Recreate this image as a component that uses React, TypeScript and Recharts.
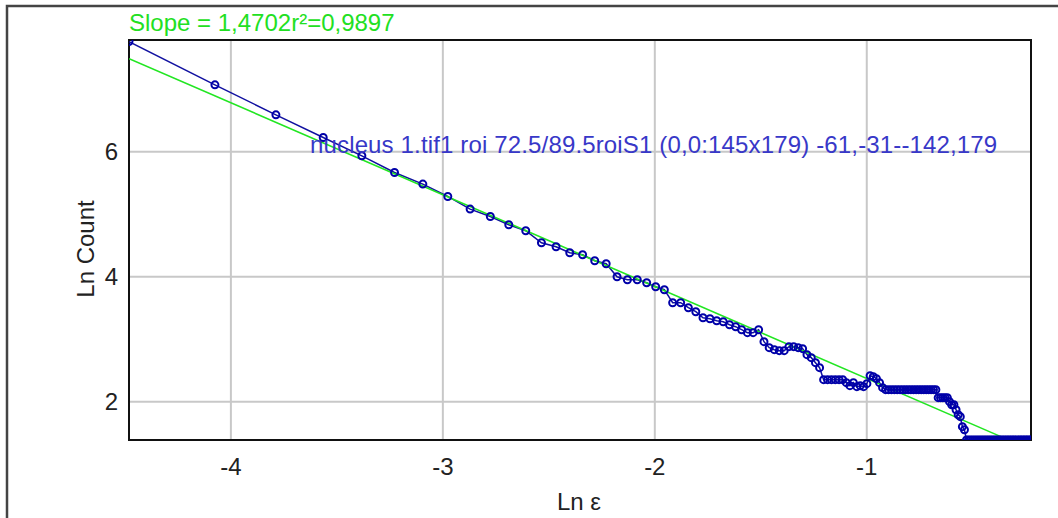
import { ComposedChart, Line, XAxis, YAxis, CartesianGrid, ReferenceArea } from 'recharts'

// box sizes (pixels) used by the box counting
const boxSizes = [
  2, 3, 4, 5, 6, 7, 8, 9, 10, 11, 12, 13, 14, 15, 16, 17, 18, 19, 20, 21,
  22, 23, 24, 25, 26, 27, 28, 29, 30, 31, 32, 33, 34, 35, 36, 37, 38, 39, 40, 41,
  42, 43, 44, 45, 46, 47, 48, 49, 50, 51, 52, 53, 54, 55, 56, 57, 58, 59, 60, 61,
  62, 63, 64, 65, 66, 67, 68, 69, 70, 71, 72, 73, 74, 75, 76, 77, 78, 79, 80, 81,
  82, 83, 84, 85, 86, 87, 88, 89, 90, 91, 92, 93, 94, 95, 96, 97, 98, 99, 100, 101,
  102, 103, 104, 105, 106, 107, 108, 109, 110, 111, 112, 113, 114, 115, 116, 117, 118, 119, 120, 121,
  122, 123, 124, 125, 126, 127, 128, 129, 130, 131, 132, 133, 134, 135, 136, 137, 138, 139, 140, 141,
]
const imageSize = 176.6

// Ln Count, one per box size
const lnCount = [
  7.765, 7.072, 6.592, 6.229, 5.936, 5.669, 5.483, 5.285, 5.083, 4.965,
  4.832, 4.736, 4.544, 4.48, 4.384, 4.352, 4.256, 4.208, 4.0, 3.952,
  3.952, 3.904, 3.84, 3.792, 3.584, 3.584, 3.504, 3.44, 3.344, 3.328,
  3.296, 3.28, 3.232, 3.2, 3.152, 3.104, 3.104, 3.152, 2.96, 2.864,
  2.832, 2.816, 2.816, 2.88, 2.88, 2.864, 2.848, 2.752, 2.704, 2.624,
  2.544, 2.352, 2.352, 2.352, 2.352, 2.352, 2.352, 2.304, 2.256, 2.304,
  2.24, 2.256, 2.24, 2.288, 2.416, 2.4, 2.368, 2.304, 2.224, 2.192,
  2.192, 2.192, 2.192, 2.192, 2.192, 2.192, 2.192, 2.192, 2.192, 2.192,
  2.192, 2.192, 2.192, 2.192, 2.192, 2.192, 2.192, 2.192, 2.192, 2.064,
  2.064, 2.064, 2.064, 2.064, 2.0, 1.95, 1.95, 1.87, 1.79, 1.76,
  1.6, 1.55, 1.386, 1.386, 1.386, 1.386, 1.386, 1.386, 1.386, 1.386,
  1.386, 1.386, 1.386, 1.386, 1.386, 1.386, 1.386, 1.386, 1.386, 1.386,
  1.386, 1.386, 1.386, 1.386, 1.386, 1.386, 1.386, 1.386, 1.386, 1.386,
  1.386, 1.386, 1.386, 1.386, 1.386, 1.386, 1.386, 1.386, 1.386, 1.386,
]

// regression line end points
const fitX = [-4.48, -0.34]
const fitY = [7.49, 1.4]

const xTicks = [-4, -3, -2, -1]
const yTicks = [2, 4, 6]

const seriesData = boxSizes.map((s, i) => ({ x: Math.log(s / imageSize), y: lnCount[i] }))
const fitData = fitX.map((x, i) => ({ x, y: fitY[i] }))

const font = '"Liberation Sans", Arial, sans-serif'

export default function App() {
  return (
    <div style={{ position: 'absolute', left: 0, top: 0, width: 1058, height: 518, background: '#fff', fontFamily: font }}>
      <ComposedChart width={1058} height={518} margin={{ top: 40, right: 27, bottom: 38, left: 69 }}>
        <CartesianGrid stroke="#c8c8c8" strokeWidth={2} />
        <XAxis
          type="number"
          dataKey="x"
          domain={[-4.4807, -0.2252]}
          ticks={xTicks}
          allowDataOverflow
          axisLine={false}
          tickLine={false}
          tickMargin={12}
          height={40}
          tick={{ fill: '#222', fontSize: 24, fontFamily: font }}
        />
        <YAxis
          type="number"
          dataKey="y"
          domain={[1.386, 7.79]}
          ticks={yTicks}
          allowDataOverflow
          axisLine={false}
          tickLine={false}
          tickMargin={5}
          width={60}
          tick={{ fill: '#222', fontSize: 24, fontFamily: font }}
        />
        <Line
          data={seriesData}
          dataKey="y"
          type="linear"
          stroke="#1010a0"
          strokeWidth={1.5}
          dot={{ r: 3.5, stroke: '#0000a8', strokeWidth: 2, fill: 'none' }}
          isAnimationActive={false}
        />
        <Line
          data={fitData}
          dataKey="y"
          type="linear"
          stroke="#22e622"
          strokeWidth={1.6}
          dot={false}
          isAnimationActive={false}
        />
        <ReferenceArea
          x1={-4.4807}
          x2={-0.2252}
          y1={1.386}
          y2={7.79}
          fill="none"
          stroke="#111"
          strokeWidth={2}
          ifOverflow="visible"
        />
      </ComposedChart>
      <svg width={1058} height={518} style={{ position: 'absolute', left: 0, top: 0, pointerEvents: 'none' }}>
        <rect x={7} y={6} width={1200} height={700} fill="none" stroke="#444" strokeWidth={2.5} />
        <text x={129} y={31} fill="#22e022" fontSize={24} fontFamily={font}>
          Slope = 1,4702r²=0,9897
        </text>
        <text x={310} y={153} fill="#3838c8" fontSize={24} fontFamily={font} letterSpacing={0.15}>
          nucleus 1.tif1 roi 72.5/89.5roiS1  (0,0:145x179) -61,-31--142,179
        </text>
        <text x={579} y={510} fill="#222" fontSize={24} fontFamily={font} textAnchor="middle">
          Ln ε
        </text>
        <text x={94} y={249} fill="#222" fontSize={24} fontFamily={font} textAnchor="middle" transform="rotate(-90, 94, 249)">
          Ln Count
        </text>
      </svg>
    </div>
  )
}
